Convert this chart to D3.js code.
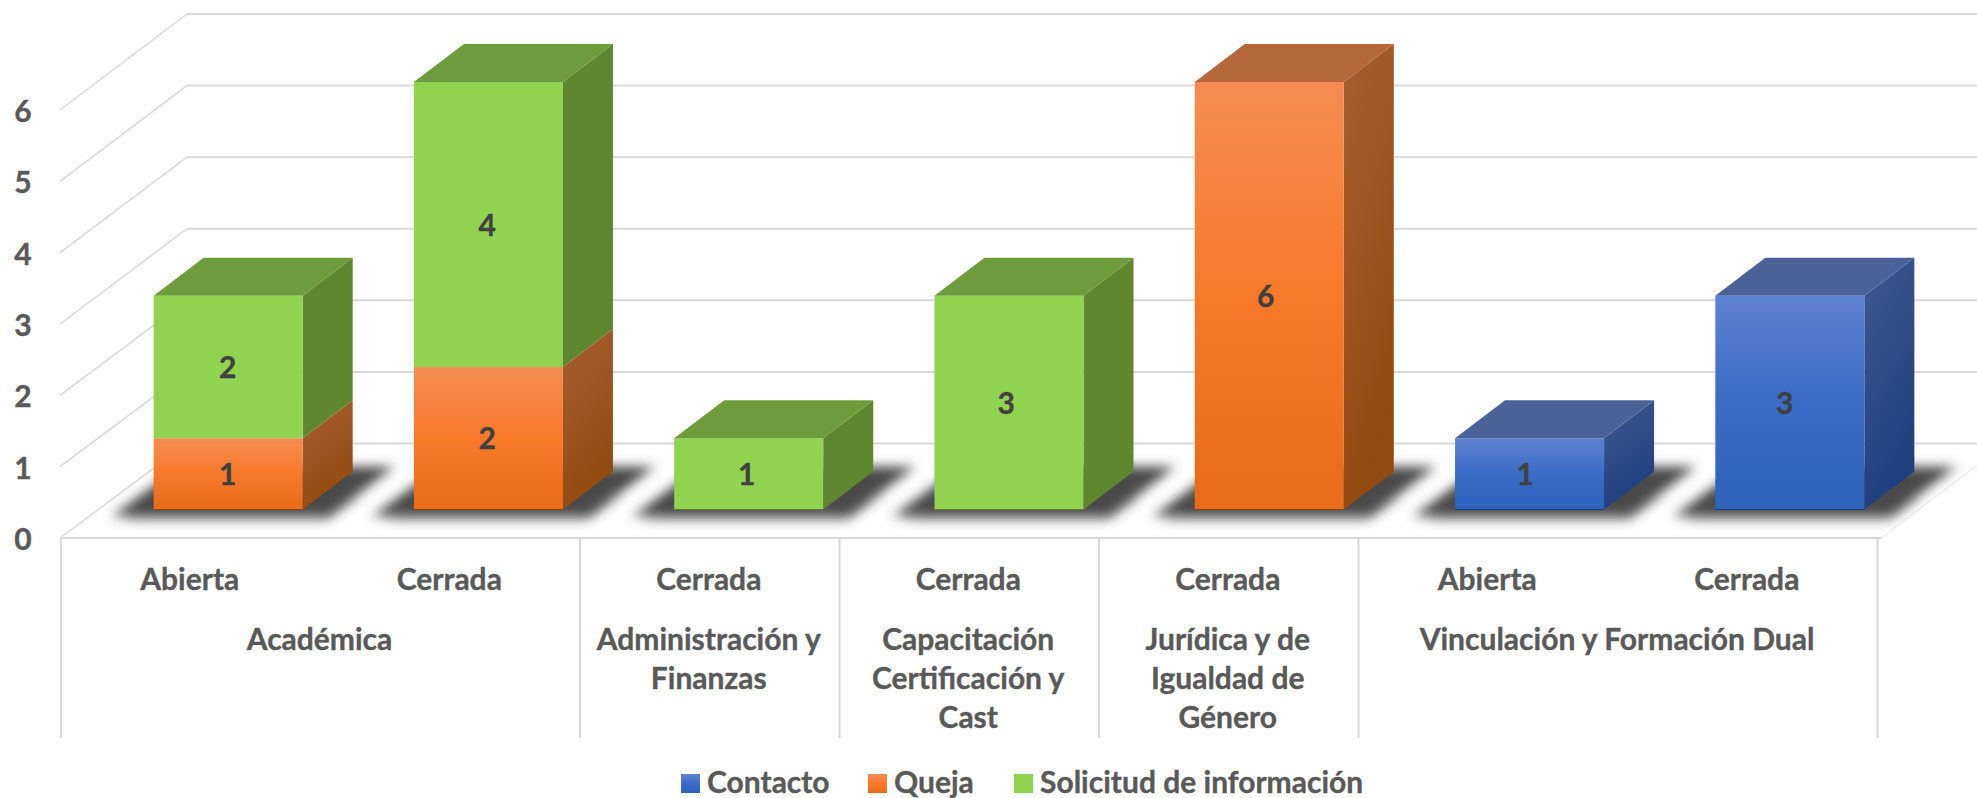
<!DOCTYPE html>
<html lang="es">
<head>
<meta charset="utf-8">
<title>Chart</title>
<script src="https://cdn.jsdelivr.net/npm/d3@7"></script>
<style>
html,body{margin:0;padding:0;background:#fff;overflow:hidden}
svg{display:block}
text{font-family:Lato,"Open Sans",sans-serif;font-weight:700;stroke:currentColor;stroke-width:.35px}
</style>
</head>
<body>
<svg id="chart" width="1977" height="798"></svg>
<script>
const statuses = ["Abierta","Cerrada","Cerrada","Cerrada","Cerrada","Abierta","Cerrada"];
const groupNames = [
  ["Académica"],
  ["Administración y","Finanzas"],
  ["Capacitación","Certificación y","Cast"],
  ["Jurídica y de","Igualdad de","Género"],
  ["Vinculación y Formación Dual"]
];
const groupSpans = [2,1,1,1,2];
const seriesNames = ["Contacto","Queja","Solicitud de información"];
const contacto = [0,0,0,0,0,1,3];
const queja    = [1,2,0,0,6,0,0];
const solicitud= [2,4,1,3,0,0,0];
const yTicks = [0,1,2,3,4,5,6];

const W=1977,H=798;
const svg=d3.select("#chart");
const idx=d3.range(statuses.length);
const rows=idx.map(i=>({i,Contacto:contacto[i],Queja:queja[i],"Solicitud de información":solicitud[i]}));
const stacked=d3.stack().keys(seriesNames)(rows);

// scales for the three depth planes of the 3-D box
const yFront=d3.scaleLinear().domain([0,6]).range([538,110]);
const yBack =d3.scaleLinear().domain([0,6]).range([443.5,14]);
const yBar  =d3.scaleLinear().domain([0,6]).range([509.5,82]);
const xAxis =d3.scaleBand().domain(idx).range([61,1877.5]);
const xBar  =d3.scaleBand().domain(idx).range([99,1919]).paddingInner(0.4275).paddingOuter(0.21);
const depthX=50, depthY=38;
const wallBackX=187, wallFrontX=60;
const labelShift=38;

const palette={
  "Contacto":{front:["#5f82cf","#3a6bc6","#2e62bb"],side:["#41598f","#1e3f80"],top:"#4a6298"},
  "Queja":{front:["#f58c52","#f8792a","#e96a17"],side:["#a95e33","#934a0e"],top:"#b5683c"},
  "Solicitud de información":{front:["#91d250","#91d250","#91d250"],side:["#5e8730","#5e8730"],top:"#6e9b3c"}
};

const defs=svg.append("defs");
const key=k=>k.split(" ")[0];
seriesNames.forEach(k=>{
  const p=palette[k];
  const f=defs.append("linearGradient").attr("id","front"+key(k)).attr("x1",0).attr("y1",0).attr("x2",0).attr("y2",1);
  p.front.forEach((c,j)=>f.append("stop").attr("offset",j/2).attr("stop-color",c));
  const s=defs.append("linearGradient").attr("id","side"+key(k)).attr("x1",0).attr("y1",0).attr("x2",.35).attr("y2",1);
  p.side.forEach((c,j)=>s.append("stop").attr("offset",j).attr("stop-color",c));
});
const blur=(id,sd)=>defs.append("filter").attr("id",id).attr("filterUnits","userSpaceOnUse")
  .attr("x",0).attr("y",380).attr("width",W).attr("height",200)
  .append("feGaussianBlur").attr("stdDeviation",sd);
blur("blurA",6);
blur("blurB",6);

const grid="#d9d9d9";
const pts=a=>a.map(p=>p.join(",")).join(" ");

// walls
const gridG=svg.append("g").attr("fill","none").attr("stroke",grid);
yTicks.forEach(t=>{
  gridG.append("line").attr("x1",wallBackX).attr("x2",W).attr("y1",yBack(t)).attr("y2",yBack(t)).attr("stroke-width",2);
  gridG.append("line").attr("x1",wallFrontX).attr("x2",wallBackX).attr("y1",yFront(t)).attr("y2",yBack(t)).attr("stroke-width",1.5);
});
gridG.append("line").attr("x1",1881).attr("y1",yFront(0)).attr("x2",2006).attr("y2",yBack(0)).attr("stroke-width",1.5).attr("stroke","#f0f0f0");

// shadows
const shadow=svg.append("g");
idx.forEach(i=>{
  const x0=xBar(i),x1=x0+xBar.bandwidth(),b=yBar(0);
  shadow.append("polygon").attr("fill","#cfcfcf").attr("filter","url(#blurB)")
    .attr("points",pts([[x0-30,b+12],[x1+24,b+12],[x1+60,b-14],[x0,b-14]]));
  shadow.append("polygon").attr("fill","#4a4a4a").attr("filter","url(#blurA)")
    .attr("points",pts([[x0-42,b+7],[x1+26,b+7],[x1+92,b-43],[x0+26,b-43]]));
});

// bars
const bars=svg.append("g");
idx.forEach(i=>{
  const x0=xBar(i),x1=x0+xBar.bandwidth();
  const segs=stacked.filter(s=>s[i][1]>s[i][0]).map(s=>({k:s.key,a:s[i][0],b:s[i][1]}));
  segs.forEach((s,n)=>{
    const yb=yBar(s.a),yt=yBar(s.b);
    bars.append("polygon").attr("fill",`url(#side${key(s.k)})`)
      .attr("points",pts([[x1,yb],[x1+depthX,yb-depthY],[x1+depthX,yt-depthY],[x1,yt]]));
    bars.append("rect").attr("x",x0).attr("y",yt).attr("width",x1-x0).attr("height",yb-yt)
      .attr("fill",`url(#front${key(s.k)})`);
    if(n===segs.length-1){
      bars.append("polygon").attr("fill",palette[s.k].top)
        .attr("points",pts([[x0,yt],[x1,yt],[x1+depthX,yt-depthY],[x0+depthX,yt-depthY]]));
    }
  });
  const first=segs[0];
  bars.append("line").attr("x1",x0).attr("x2",x1).attr("y1",yBar(0)).attr("y2",yBar(0))
    .attr("stroke",d3.color(palette[first.k].side[1]).darker(.2)).attr("stroke-width",1.2);
});

// data labels
const labels=svg.append("g").attr("fill","#404040").attr("color","#404040").attr("font-size",30).attr("text-anchor","middle").attr("dominant-baseline","central");
idx.forEach(i=>{
  const cx=xAxis(i)+xAxis.bandwidth()/2+labelShift;
  stacked.forEach(s=>{
    const v=s[i][1]-s[i][0];
    if(v>0) labels.append("text").attr("x",cx-1).attr("y",yBar((s[i][0]+s[i][1])/2)-1).text(v);
  });
});

// y axis labels
const yl=svg.append("g").attr("fill","#595959").attr("color","#595959").attr("font-size",30).attr("text-anchor","middle").attr("dominant-baseline","central");
yTicks.forEach(t=>yl.append("text").attr("x",23).attr("y",yFront(t)).text(t));

// x axis
const ax=svg.append("g");
ax.append("line").attr("x1",61).attr("x2",1881).attr("y1",yFront(0)).attr("y2",yFront(0)).attr("stroke",grid).attr("stroke-width",2);
const xt=svg.append("g").attr("fill","#595959").attr("color","#595959").attr("font-size",30).attr("text-anchor","middle").attr("dominant-baseline","central");
idx.forEach(i=>xt.append("text").attr("x",xAxis(i)+xAxis.bandwidth()/2-1).attr("y",578).text(statuses[i]));
let pos=0;
const seps=[xAxis(0)];
groupNames.forEach((lines,g)=>{
  const x0=xAxis(pos), end=pos+groupSpans[g]-1;
  const x1=xAxis(end)+xAxis.bandwidth();
  seps.push(x1);
  lines.forEach((ln,j)=>xt.append("text").attr("x",(x0+x1)/2-1).attr("y",638+j*39).text(ln));
  pos+=groupSpans[g];
});
seps.forEach(x=>ax.append("line").attr("x1",x).attr("x2",x).attr("y1",yFront(0)).attr("y2",738).attr("stroke",grid).attr("stroke-width",2));

// legend
const legendX=[[681,707],[868,894],[1014,1040]];
const lg=svg.append("g");
seriesNames.forEach((k,j)=>{
  lg.append("rect").attr("x",legendX[j][0]).attr("y",774).attr("width",19).attr("height",19).attr("fill",`url(#front${key(k)})`);
  lg.append("text").attr("x",legendX[j][1]).attr("y",780.5).attr("dominant-baseline","central").attr("font-size",30).attr("fill","#595959").attr("color","#595959").text(k);
});
</script>
</body>
</html>
